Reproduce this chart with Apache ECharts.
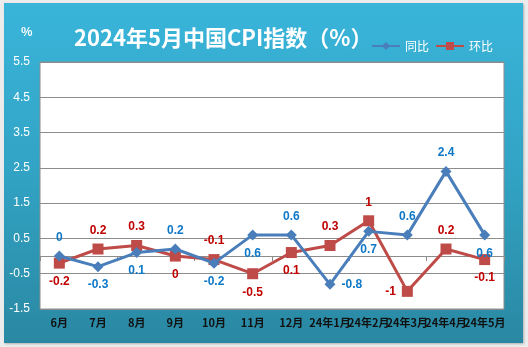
<!DOCTYPE html>
<html><head><meta charset="utf-8">
<script src="https://cdn.jsdelivr.net/npm/echarts@6/dist/echarts.min.js"></script>
<style>
html,body{margin:0;padding:0;background:#ececec;width:528px;height:347px;overflow:hidden;}
#box{position:absolute;left:4px;top:3px;width:519px;height:340px;background:linear-gradient(to bottom,#39b5da 0%,#32a3c4 50%,#2a88a2 100%);box-shadow:1px 1px 2px rgba(0,0,0,0.25);}
#c{position:absolute;left:0;top:0;width:528px;height:347px;}
</style></head>
<body><div id="box"></div><div id="c"></div>
<script>
const categories = ['6月','7月','8月','9月','10月','11月','12月','24年1月','24年2月','24年3月','24年4月','24年5月'];
const yoy = [0, -0.3, 0.1, 0.2, -0.2, 0.6, 0.6, -0.8, 0.7, 0.6, 2.4, 0.6];
const mom = [-0.2, 0.2, 0.3, 0, -0.1, -0.5, 0.1, 0.3, 1, -1, 0.2, -0.1];
const yoyLabelPos = ['top','bottom','bottom','top','bottom','bottom','top','right','bottom','top','top','bottom'];
const momLabelPos = ['bottom','top','top','bottom','top','bottom','bottom','top','top','left','top','bottom'];

const chart = echarts.init(document.getElementById('c'), null, {renderer:'canvas'});
const lblFont = {fontFamily:'"Liberation Sans", "Noto Sans CJK SC", sans-serif', fontSize:12, fontWeight:'bold'};
function mk(vals, pos, color){
  return vals.map((v,i)=>({value:v, label:{show:true, position:pos[i], distance:pos[i]==='bottom'?7:(pos[i]==='right'||pos[i]==='left'?6:7), color:color, ...lblFont, formatter: p=>String(p.value)}}));
}
chart.setOption({
  animation:false,
  backgroundColor:'transparent',
  title:[{text:'2024年5月中国CPI指数（%）', left:69, top:22, textStyle:{color:'#fff', fontSize:22, fontWeight:'bold', fontFamily:'"Noto Sans CJK SC", sans-serif'}},
         {text:'%', left:16, top:20, textStyle:{color:'#fff', fontSize:12, fontWeight:'bold', fontFamily:'"Noto Sans CJK SC", sans-serif'}}],
  legend:{right:30, top:35, itemWidth:28, itemHeight:10, itemGap:6, textStyle:{color:'#fff', fontSize:12, fontFamily:'"Noto Sans CJK SC", sans-serif'},
    data:['同比','环比']},
  grid:{left:40, right:24, top:62, bottom:38, show:true, backgroundColor:'#fff', borderColor:'#8c8c8c', borderWidth:1},
  xAxis:[{type:'category', data:categories, boundaryGap:true,
      axisLine:{onZero:true, lineStyle:{color:'#8c8c8c', width:1}}, axisTick:{show:true, length:5, inside:false, lineStyle:{color:'#8c8c8c'}},
      axisLabel:{show:false}},
    {type:'category', data:categories, position:'bottom', boundaryGap:true, axisLine:{show:false}, axisTick:{show:false},
      axisLabel:{show:true, color:'#111', fontSize:11, fontWeight:'bold', margin:8, interval:0, fontFamily:'"Noto Sans CJK SC", sans-serif'}}],
  yAxis:{type:'value', min:-1.5, max:5.5, interval:1, axisLine:{show:false}, axisTick:{show:false},
    axisLabel:{color:'#fff', fontSize:12, margin:10, fontFamily:'"Liberation Sans", sans-serif', formatter:v=>v.toFixed(1)},
    splitLine:{lineStyle:{color:'#8c8c8c', width:1}}},
  series:[
    {name:'同比', type:'line', xAxisIndex:0, data:mk(yoy,yoyLabelPos,'#0e78c8'), symbol:'diamond', symbolSize:11,
      lineStyle:{color:'#4a7ebb', width:3}, itemStyle:{color:'#4a7ebb'}, z:3},
    {name:'环比', type:'line', xAxisIndex:0, data:mk(mom,momLabelPos,'#c00000'), symbol:'rect', symbolSize:11,
      lineStyle:{color:'#be4b48', width:3}, itemStyle:{color:'#be4b48'}, z:2}
  ]
});
</script></body></html>
